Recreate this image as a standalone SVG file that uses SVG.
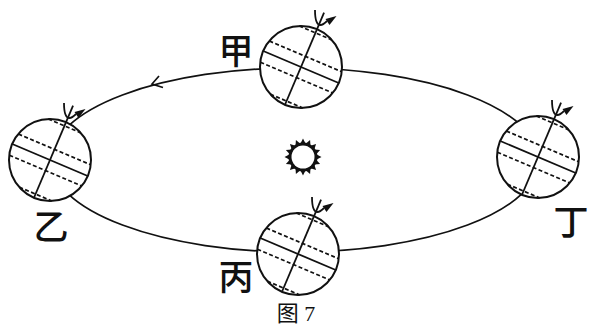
<svg xmlns="http://www.w3.org/2000/svg" xmlns:xlink="http://www.w3.org/1999/xlink" width="590" height="326" viewBox="0 0 590 326">
  <style>
    .ink { stroke: #111; fill: none; stroke-linecap: butt; }
    .solid { stroke: #111; stroke-width: 1.8; fill: none; }
    .dash { stroke: #111; stroke-width: 1.7; fill: none; stroke-dasharray: 4 2.4; }
    .label { font-family: "Noto Sans CJK SC", "Noto Sans CJK JP", sans-serif; font-size: 35px; font-weight: 500; fill: #111; text-anchor: middle; }
    .caption { font-family: "Liberation Serif", "Noto Sans CJK SC", serif; font-size: 22px; fill: #111; text-anchor: middle; }
  </style>
  <defs>
    <!-- Earth with tilted axis, equator, tropics and polar circles; rotation arrow at the north pole -->
    <g id="earth">
      <circle r="41" fill="#fff" stroke="#111" stroke-width="2"/>
      <g transform="rotate(23)">
        <line class="solid" x1="-41" y1="0" x2="41" y2="0"/>
        <line class="dash" x1="-39.3" y1="-11.5" x2="39.3" y2="-11.5"/>
        <line class="dash" x1="-39.3" y1="11.5" x2="39.3" y2="11.5"/>
        <line class="dash" x1="-17.7" y1="-37" x2="17.7" y2="-37"/>
        <line class="dash" x1="-17.7" y1="37" x2="17.7" y2="37"/>
        <line class="solid" x1="0" y1="41" x2="0" y2="-59"/>
      </g>
      <path class="solid" d="M14,-57 C14,-47 16,-42 19.5,-42 C22,-42 24,-44 26,-46"/>
      <polygon points="35.5,-51 24.5,-48 28.5,-42" fill="#111"/>
    </g>
  </defs>

  <!-- orbit -->
  <g id="connectors">
    <ellipse class="ink" stroke-width="1.7" cx="295" cy="160" rx="244" ry="92"/>
    <path class="ink" stroke-width="1.7" d="M159,76 L152,84 L163,87.5"/>
  </g>

  <!-- sun -->
  <g id="sun" transform="translate(303,157)">
    <polygon fill="#111" points="18.5,0 13.24,2.63 17.09,7.08 11.23,7.5 13.08,13.08 7.5,11.23 7.08,17.09 2.63,13.24 0,18.5 -2.63,13.24 -7.08,17.09 -7.5,11.23 -13.08,13.08 -11.23,7.5 -17.09,7.08 -13.24,2.63 -18.5,0 -13.24,-2.63 -17.09,-7.08 -11.23,-7.5 -13.08,-13.08 -7.5,-11.23 -7.08,-17.09 -2.63,-13.24 0,-18.5 2.63,-13.24 7.08,-17.09 7.5,-11.23 13.08,-13.08 11.23,-7.5 17.09,-7.08 13.24,-2.63"/>
    <circle r="14.5" fill="#111"/>
    <circle r="11.5" fill="#fff"/>
  </g>

  <g id="node-jia">
    <use xlink:href="#earth" transform="translate(301,67)"/>
    <text class="label" x="236" y="64">甲</text>
  </g>
  <g id="node-yi">
    <use xlink:href="#earth" transform="translate(50,160)"/>
    <text class="label" x="51" y="240">乙</text>
  </g>
  <g id="node-bing">
    <use xlink:href="#earth" transform="translate(298,254)"/>
    <text class="label" x="236" y="290">丙</text>
  </g>
  <g id="node-ding">
    <use xlink:href="#earth" transform="translate(538,157)"/>
    <text class="label" x="571" y="235">丁</text>
  </g>

  <text class="caption" x="296" y="321">图 7</text>
</svg>
